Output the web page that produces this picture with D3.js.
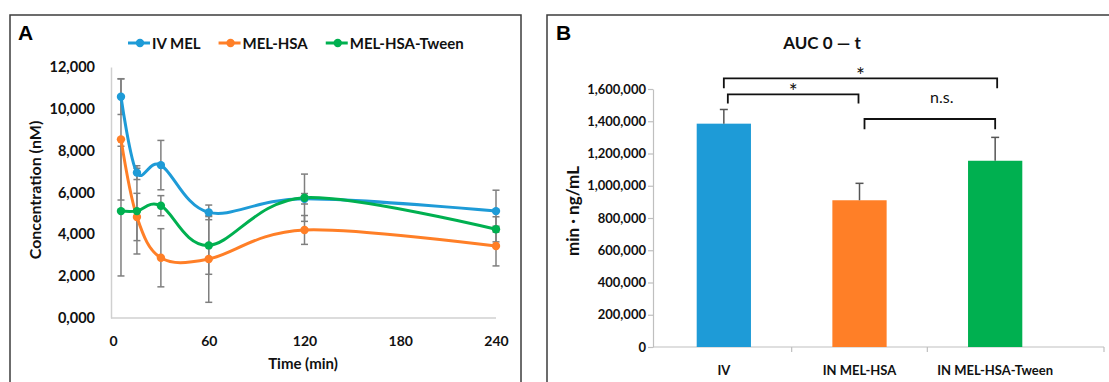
<!DOCTYPE html>
<html>
<head>
<meta charset="utf-8">
<script src="https://cdn.jsdelivr.net/npm/d3@7"></script>
<style>
  html, body { margin: 0; padding: 0; background: #fff; }
  svg { display: block; font-family: Lato, "Open Sans", sans-serif; }
</style>
</head>
<body>
<svg id="chart" width="1109" height="382"></svg>
<script>
// ---- panel A: concentration over time ----
const times = [5, 15, 30, 60, 120, 240];
const seriesNames = ["IV MEL", "MEL-HSA", "MEL-HSA-Tween"];
const ivMel        = [10580, 6950, 7310, 5050, 5700, 5110];
const ivMelErr     = [850, 330, 1180, 350, 250, 1000];
const melHsa       = [8540, 4830, 2880, 2820, 4210, 3440];
const melHsaErr    = [2900, 1130, 1390, 2070, 690, 950];
const melHsaTween  = [5110, 5110, 5370, 3470, 5750, 4240];
const melHsaTweenErr = [3100, 2050, 480, 1380, 1130, 600];
const xTicksA = [0, 60, 120, 180, 240];
const yTicksA = [0, 2000, 4000, 6000, 8000, 10000, 12000];
const yTickLabelsA = ["0,000", "2,000", "4,000", "6,000", "8,000", "10,000", "12,000"];

// ---- panel B: AUC 0-t ----
const groups = ["IV", "IN MEL-HSA", "IN MEL-HSA-Tween"];
const auc    = [1385000, 910000, 1155000];
const aucErr = [88000, 105000, 145000];
const yTicksB = [0, 200000, 400000, 600000, 800000, 1000000, 1200000, 1400000, 1600000];
// significance brackets: level = bar height, leg = end of the down strokes
const comparisons = [
    { a: "IV", b: "IN MEL-HSA-Tween", level: 1666000, leg: 1604000, label: "*" },
    { a: "IV", b: "IN MEL-HSA",       level: 1567000, leg: 1510000, label: "*" },
    { a: "IN MEL-HSA", b: "IN MEL-HSA-Tween", level: 1414000, leg: 1350000, label: "n.s." }
];

const colors = ["#1e9bd7", "#ff7f27", "#00b050"];
const svg = d3.select("#chart");

// panel frames
svg.append("rect").attr("x", 10).attr("y", 15).attr("width", 511).attr("height", 420)
    .attr("fill", "none").attr("stroke", "#3c3c3c").attr("stroke-width", 1.5);
svg.append("rect").attr("x", 547).attr("y", 15).attr("width", 620).attr("height", 420)
    .attr("fill", "none").attr("stroke", "#3c3c3c").attr("stroke-width", 1.5);

svg.append("text").attr("x", 18).attr("y", 40)
    .attr("font-family", "Liberation Sans, Arial, sans-serif")
    .attr("font-weight", 700).attr("font-size", 21).text("A");
svg.append("text").attr("x", 556).attr("y", 40)
    .attr("font-family", "Liberation Sans, Arial, sans-serif")
    .attr("font-weight", 700).attr("font-size", 21).text("B");

// ===== Panel A =====
const xA = d3.scaleLinear().domain([0, 240]).range([113, 496]);
const yA = d3.scaleLinear().domain([0, 12000]).range([318, 67]);
const axisGrey = "#d0d0d0";

svg.append("g").attr("transform", `translate(${xA(0) - 2},0)`)
    .call(d3.axisLeft(yA).tickValues(yTicksA).tickSize(0).tickPadding(16)
        .tickFormat((d, i) => yTickLabelsA[i]))
    .call(g => g.select(".domain").attr("stroke", axisGrey).attr("stroke-width", 1.5))
    .call(g => g.selectAll("text").attr("font-family", "Lato, sans-serif")
        .attr("font-weight", 700).attr("font-size", 14.5).attr("fill", "#111"));

svg.append("g").attr("transform", `translate(0,${yA(0)})`)
    .call(d3.axisBottom(xA).tickValues(xTicksA).tickSize(0).tickPadding(18))
    .call(g => g.select(".domain").attr("stroke", axisGrey).attr("stroke-width", 1.5)
        .attr("d", `M${xA(0) - 2},0H${xA(240)}`))
    .call(g => g.selectAll("text").attr("font-family", "Lato, sans-serif")
        .attr("font-weight", 700).attr("font-size", 14).attr("fill", "#111"));

svg.append("text").attr("x", 303).attr("y", 369).attr("text-anchor", "middle")
    .attr("font-weight", 700).attr("font-size", 15).attr("fill", "#111").text("Time (min)");
svg.append("text").attr("transform", "translate(41,190) rotate(-90)").attr("text-anchor", "middle")
    .attr("font-weight", 700).attr("font-size", 16).attr("fill", "#111").text("Concentration (nM)");

const seriesA = [
    { name: seriesNames[0], values: ivMel, err: ivMelErr, color: colors[0] },
    { name: seriesNames[1], values: melHsa, err: melHsaErr, color: colors[1] },
    { name: seriesNames[2], values: melHsaTween, err: melHsaTweenErr, color: colors[2] }
];

const errG = svg.append("g").attr("stroke", "#7f7f7f").attr("stroke-width", 1.5);
seriesA.forEach(s => {
    times.forEach((t, i) => {
        const cx = xA(t), top = yA(s.values[i] + s.err[i]), bot = yA(s.values[i] - s.err[i]);
        errG.append("line").attr("x1", cx).attr("x2", cx).attr("y1", top).attr("y2", bot);
        errG.append("line").attr("x1", cx - 3.5).attr("x2", cx + 3.5).attr("y1", top).attr("y2", top);
        errG.append("line").attr("x1", cx - 3.5).attr("x2", cx + 3.5).attr("y1", bot).attr("y2", bot);
    });
});

const lineA = d3.line().x((d, i) => xA(times[i])).y(d => yA(d)).curve(d3.curveCardinal.tension(0));
seriesA.forEach(s => {
    svg.append("path").datum(s.values)
        .attr("fill", "none").attr("stroke", s.color).attr("stroke-width", 3)
        .attr("d", lineA);
});
seriesA.forEach(s => {
    svg.selectAll(null).data(s.values).enter().append("circle")
        .attr("cx", (d, i) => xA(times[i])).attr("cy", d => yA(d))
        .attr("r", 4.2).attr("fill", s.color);
});

// legend
let lx = 128;
seriesA.forEach(s => {
    const lg = svg.append("g").attr("transform", `translate(${lx},43)`);
    lg.append("line").attr("x1", 0).attr("x2", 22).attr("y1", 0).attr("y2", 0)
        .attr("stroke", s.color).attr("stroke-width", 3);
    lg.append("circle").attr("cx", 12).attr("cy", 0).attr("r", 4.2).attr("fill", s.color);
    const t = lg.append("text").attr("x", 24).attr("y", 5.5)
        .attr("font-weight", 700).attr("font-size", 15).attr("fill", "#111").text(s.name);
    lx += 24 + t.node().getComputedTextLength() + 18;
});

// ===== Panel B =====
const xB = d3.scaleBand().domain(groups).range([656, 1063]).paddingInner(0.6).paddingOuter(0.3);
const yB = d3.scaleLinear().domain([0, 1600000]).range([347, 89]);
const axisB = "#bfbfbf";
const axisLeftX = 653, axisRightX = 1104;

svg.append("g").attr("transform", `translate(${axisLeftX},0)`)
    .call(d3.axisLeft(yB).tickValues(yTicksB).tickSize(5).tickSizeOuter(0).tickPadding(2)
        .tickFormat(d3.format(",")))
    .call(g => g.select(".domain").attr("stroke", axisB).attr("stroke-width", 1.2))
    .call(g => g.selectAll(".tick line").attr("stroke", axisB).attr("stroke-width", 1.2))
    .call(g => g.selectAll("text").attr("font-family", "Lato, sans-serif")
        .attr("font-weight", 700).attr("font-size", 13).attr("fill", "#111"));

// category axis: baseline, dividers between categories, labels
const step = xB.step();
const dividers = groups.slice(1).map(g => xB(g) + xB.bandwidth() / 2 - step / 2).concat([axisRightX]);
svg.append("line").attr("x1", axisLeftX).attr("x2", axisRightX).attr("y1", yB(0)).attr("y2", yB(0))
    .attr("stroke", axisB).attr("stroke-width", 1.2);
svg.selectAll(null).data(dividers).enter().append("line")
    .attr("x1", d => d).attr("x2", d => d).attr("y1", yB(0)).attr("y2", yB(0) + 5)
    .attr("stroke", axisB).attr("stroke-width", 1.2);
svg.selectAll(null).data(groups).enter().append("text")
    .attr("x", d => xB(d) + xB.bandwidth() / 2).attr("y", yB(0) + 28)
    .attr("text-anchor", "middle").attr("font-weight", 700).attr("font-size", 13)
    .attr("fill", "#111").text(d => d);

svg.selectAll(null).data(groups).enter().append("rect")
    .attr("x", d => xB(d)).attr("width", xB.bandwidth())
    .attr("y", (d, i) => yB(auc[i])).attr("height", (d, i) => yB(0) - yB(auc[i]))
    .attr("fill", (d, i) => colors[i]);

const errB = svg.append("g").attr("stroke", "#555").attr("stroke-width", 1.5);
groups.forEach((gname, i) => {
    const cx = xB(gname) + xB.bandwidth() / 2;
    errB.append("line").attr("x1", cx).attr("x2", cx)
        .attr("y1", yB(auc[i])).attr("y2", yB(auc[i] + aucErr[i]));
    errB.append("line").attr("x1", cx - 4).attr("x2", cx + 4)
        .attr("y1", yB(auc[i] + aucErr[i])).attr("y2", yB(auc[i] + aucErr[i]));
});

svg.append("text").attr("x", 822).attr("y", 49).attr("text-anchor", "middle")
    .attr("font-weight", 700).attr("font-size", 17).attr("fill", "#111").text("AUC 0 \u2014 t");
svg.append("text").attr("transform", "translate(579,211) rotate(-90)").attr("text-anchor", "middle")
    .attr("font-weight", 700).attr("font-size", 17).attr("fill", "#111").text("min \u00b7 ng/mL");

// significance brackets
const startNudge = [0, 4, 5], endNudge = [2, -1, 0], labelNudge = [0, 0, 12];
comparisons.forEach((c, i) => {
    const x1 = xB(c.a) + xB.bandwidth() / 2 + startNudge[i];
    const x2 = xB(c.b) + xB.bandwidth() / 2 + endNudge[i];
    const yl = yB(c.level), yleg = yB(c.leg);
    svg.append("path")
        .attr("d", `M${x1},${yleg}V${yl}H${x2}V${yleg}`)
        .attr("fill", "none").attr("stroke", "#111").attr("stroke-width", 1.8);
    const isStar = c.label === "*";
    svg.append("text").attr("x", (x1 + x2) / 2 + labelNudge[i])
        .attr("y", isStar ? yl + 5 : yl - 15.5)
        .attr("text-anchor", "middle").attr("font-size", isStar ? 21 : 16)
        .attr("fill", "#111").text(c.label);
});
</script>
</body>
</html>
